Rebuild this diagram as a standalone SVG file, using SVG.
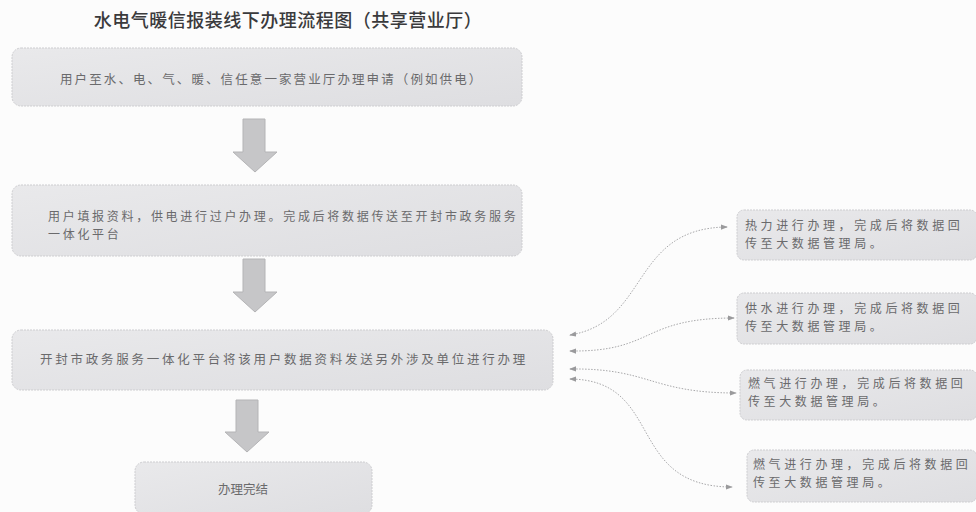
<svg xmlns="http://www.w3.org/2000/svg" width="976" height="512" viewBox="0 0 976 512">
<defs>
<linearGradient id="g" x1="0" y1="0" x2="1" y2="1">
<stop offset="0" stop-color="#e9e9eb"/>
<stop offset="1" stop-color="#dedee1"/>
</linearGradient>
<marker id="ah" viewBox="0 0 8 8" refX="7" refY="4" markerWidth="7" markerHeight="7" markerUnits="userSpaceOnUse" orient="auto-start-reverse">
<path d="M0,1 L8,4 L0,7 Z" fill="#9a9a9c"/>
</marker>
</defs>
<style>
.box{fill:url(#g);stroke:#cdcdd0;stroke-width:1;stroke-dasharray:2 1}
.t{font-family:"Noto Sans CJK SC","Noto Sans CJK JP",sans-serif;font-size:12.5px;fill:#6a6a6c}
.title{font-family:"Noto Sans CJK SC","Noto Sans CJK JP",serif;font-size:18px;fill:#3a3a3c;font-weight:500}
.arr{fill:#c6c6c8;stroke:#b4b4b6;stroke-width:1}
.con{fill:none;stroke:#a8a8aa;stroke-width:1;stroke-dasharray:1.5 1.5;marker-start:url(#ah);marker-end:url(#ah)}
.r{font-size:12px;letter-spacing:3.6px}
.s{font-size:12px;letter-spacing:2.7px}
</style>
<rect width="976" height="512" fill="#fcfcfc"/>
<text class="title" x="288" y="27" text-anchor="middle" letter-spacing="0.5">水电气暖信报装线下办理流程图（共享营业厅）</text>

<g id="n1">
<rect class="box" x="12" y="48" width="510" height="58" rx="9"/>
<text class="t" x="60" y="84" letter-spacing="2.1">用户至水、电、气、暖、信任意一家营业厅办理申请（例如供电）</text>
</g>
<g id="n2">
<rect class="box" x="12" y="185" width="510" height="71" rx="9"/>
<text class="t s" x="48" y="221">用户填报资料，供电进行过户办理。完成后将数据传送至开封市政务服务</text>
<text class="t s" x="48" y="239">一体化平台</text>
</g>
<g id="n3">
<rect class="box" x="12" y="330" width="541" height="60" rx="9"/>
<text class="t" x="40" y="364" letter-spacing="2.75">开封市政务服务一体化平台将该用户数据资料发送另外涉及单位进行办理</text>
</g>
<g id="n4">
<rect class="box" x="135" y="462" width="237" height="52" rx="9"/>
<text class="t" x="218" y="494" letter-spacing="0">办理完结</text>
</g>
<g id="r1">
<rect class="box" x="737" y="210" width="240" height="50" rx="7"/>
<text class="t r" x="745" y="230">热力进行办理，完成后将数据回</text>
<text class="t r" x="745" y="248">传至大数据管理局。</text>
</g>
<g id="r2">
<rect class="box" x="737" y="293" width="240" height="51" rx="7"/>
<text class="t r" x="745" y="313">供水进行办理，完成后将数据回</text>
<text class="t r" x="745" y="331">传至大数据管理局。</text>
</g>
<g id="r3">
<rect class="box" x="740" y="370" width="237" height="50" rx="7"/>
<text class="t r" x="748" y="388">燃气进行办理，完成后将数据回</text>
<text class="t r" x="748" y="406">传至大数据管理局。</text>
</g>
<g id="r4">
<rect class="box" x="747" y="450" width="230" height="52" rx="7"/>
<text class="t r" x="753" y="469">燃气进行办理，完成后将数据回</text>
<text class="t r" x="753" y="487">传至大数据管理局。</text>
</g>

<g id="connectors">
<path class="arr" d="M243,119 H265 V152 H277 L255,172 L233,152 H243 Z"/>
<path class="arr" d="M243,259 H265 V292 H277 L255,312 L233,292 H243 Z"/>
<path class="arr" d="M236,400 H258 V432 H269 L247,452 L225,432 H236 Z"/>
<path class="con" d="M570,335 C650,322 630,228 727,227"/>
<path class="con" d="M570,351 C655,352 640,318 734,318"/>
<path class="con" d="M570,369 C650,368 650,393 736,393"/>
<path class="con" d="M570,379 C665,380 625,487 732,487"/>
</g>
</svg>
